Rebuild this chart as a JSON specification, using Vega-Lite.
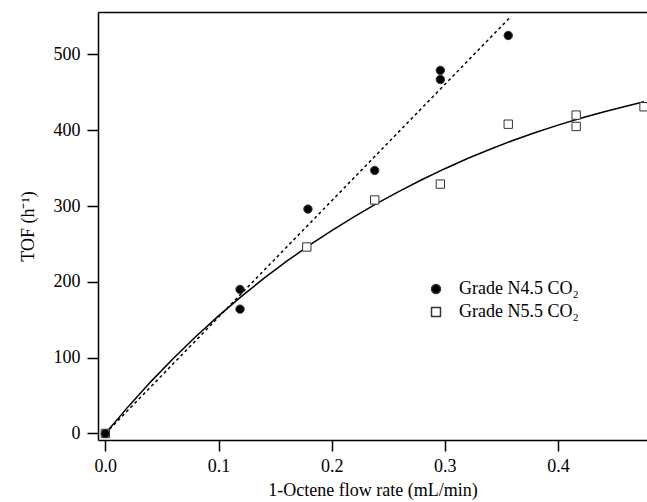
{
  "$schema": "https://vega.github.io/schema/vega-lite/v6.json",
  "width": 549,
  "height": 428,
  "autosize": {"type": "none"},
  "padding": {"left": 98, "top": 12, "right": 0, "bottom": 62},
  "background": "white",
  "config": {
    "view": {"stroke": null},
    "font": "Liberation Serif",
    "axis": {
      "grid": false,
      "domainColor": "black",
      "domainWidth": 1.5,
      "tickColor": "black",
      "tickWidth": 1.5,
      "tickSize": 11,
      "labelFont": "Liberation Serif",
      "labelFontSize": 18,
      "labelColor": "black",
      "titleFont": "Liberation Serif",
      "titleFontSize": 18,
      "titleFontWeight": "normal",
      "titleColor": "black"
    },
    "legend": {
      "labelFont": "Liberation Serif",
      "labelFontSize": 18,
      "labelColor": "black"
    }
  },
  "resolve": {"axis": {"x": "independent"}},
  "datasets": {
    "fit": [
      {"x": 0, "y": 0}, {"x": 0.02, "y": 35.1}, {"x": 0.04, "y": 68.1}, {"x": 0.06, "y": 99.0},
      {"x": 0.08, "y": 128.0}, {"x": 0.10, "y": 155.1}, {"x": 0.12, "y": 180.6}, {"x": 0.14, "y": 204.5},
      {"x": 0.16, "y": 226.9}, {"x": 0.18, "y": 248.0}, {"x": 0.20, "y": 267.6}, {"x": 0.22, "y": 286.2},
      {"x": 0.24, "y": 303.5}, {"x": 0.26, "y": 319.8}, {"x": 0.28, "y": 335.0}, {"x": 0.30, "y": 349.3},
      {"x": 0.32, "y": 362.7}, {"x": 0.34, "y": 375.0}, {"x": 0.36, "y": 386.5}, {"x": 0.38, "y": 397.0},
      {"x": 0.40, "y": 406.8}, {"x": 0.42, "y": 415.8}, {"x": 0.44, "y": 424.2}, {"x": 0.46, "y": 431.8},
      {"x": 0.476, "y": 437.7}
    ],
    "lin": [
      {"x": 0, "y": 0}, {"x": 0.357, "y": 548}
    ],
    "pts": [
      {"x": 0, "y": 0, "series": "Grade N5.5 CO₂"},
      {"x": 0.178, "y": 246, "series": "Grade N5.5 CO₂"},
      {"x": 0.238, "y": 308, "series": "Grade N5.5 CO₂"},
      {"x": 0.296, "y": 329, "series": "Grade N5.5 CO₂"},
      {"x": 0.356, "y": 408, "series": "Grade N5.5 CO₂"},
      {"x": 0.416, "y": 420, "series": "Grade N5.5 CO₂"},
      {"x": 0.416, "y": 405, "series": "Grade N5.5 CO₂"},
      {"x": 0.476, "y": 431, "series": "Grade N5.5 CO₂"},
      {"x": 0, "y": 0, "series": "Grade N4.5 CO₂"},
      {"x": 0.119, "y": 190, "series": "Grade N4.5 CO₂"},
      {"x": 0.119, "y": 164, "series": "Grade N4.5 CO₂"},
      {"x": 0.179, "y": 296, "series": "Grade N4.5 CO₂"},
      {"x": 0.238, "y": 347, "series": "Grade N4.5 CO₂"},
      {"x": 0.296, "y": 479, "series": "Grade N4.5 CO₂"},
      {"x": 0.296, "y": 467, "series": "Grade N4.5 CO₂"},
      {"x": 0.356, "y": 525, "series": "Grade N4.5 CO₂"}
    ]
  },
  "layer": [
    {
      "data": {"name": "fit"},
      "mark": {"type": "line", "color": "black", "strokeWidth": 1.5},
      "encoding": {
        "x": {
          "field": "x", "type": "quantitative",
          "scale": {"domain": [-0.0065, 0.4786], "nice": false, "zero": false},
          "axis": {
            "orient": "bottom",
            "values": [0, 0.1, 0.2, 0.3, 0.4],
            "format": ".1f",
            "labelPadding": 6,
            "title": "1-Octene flow rate (mL/min)",
            "titlePadding": 6
          }
        },
        "y": {
          "field": "y", "type": "quantitative",
          "scale": {"domain": [-8.6, 556], "nice": false, "zero": false},
          "axis": {
            "values": [0, 100, 200, 300, 400, 500],
            "labelPadding": 7,
            "title": "TOF (h⁻¹)",
            "titlePadding": 16
          }
        }
      }
    },
    {
      "data": {"name": "lin"},
      "mark": {"type": "line", "color": "black", "strokeWidth": 1.5, "strokeDash": [3, 3]},
      "encoding": {
        "x": {
          "field": "x", "type": "quantitative",
          "axis": {"orient": "top", "labels": false, "ticks": false, "title": null, "domain": true}
        },
        "y": {"field": "y", "type": "quantitative"}
      }
    },
    {
      "data": {"name": "pts"},
      "mark": {"type": "point", "size": 70, "stroke": "#333", "strokeWidth": 1, "opacity": 1, "filled": false},
      "encoding": {
        "x": {"field": "x", "type": "quantitative", "axis": null},
        "y": {"field": "y", "type": "quantitative"},
        "shape": {
          "field": "series", "type": "nominal",
          "scale": {"domain": ["Grade N4.5 CO₂", "Grade N5.5 CO₂"], "range": ["circle", "square"]},
          "legend": {
            "title": null,
            "orient": "none",
            "legendX": 329,
            "legendY": 268,
            "padding": 0,
            "labelOffset": 14,
            "rowPadding": 5,
            "symbolSize": 80,
            "encode": {"symbols": {"update": {"stroke": {"value": "#333"}, "strokeWidth": {"value": 1}}}}
          }
        },
        "fill": {
          "field": "series", "type": "nominal",
          "scale": {"domain": ["Grade N4.5 CO₂", "Grade N5.5 CO₂"], "range": ["black", "white"]},
          "legend": {
            "title": null,
            "orient": "none",
            "legendX": 329,
            "legendY": 268,
            "padding": 0,
            "labelOffset": 14,
            "rowPadding": 5,
            "symbolSize": 80,
            "encode": {"symbols": {"update": {"stroke": {"value": "#333"}, "strokeWidth": {"value": 1}}}}
          }
        }
      }
    }
  ]
}
